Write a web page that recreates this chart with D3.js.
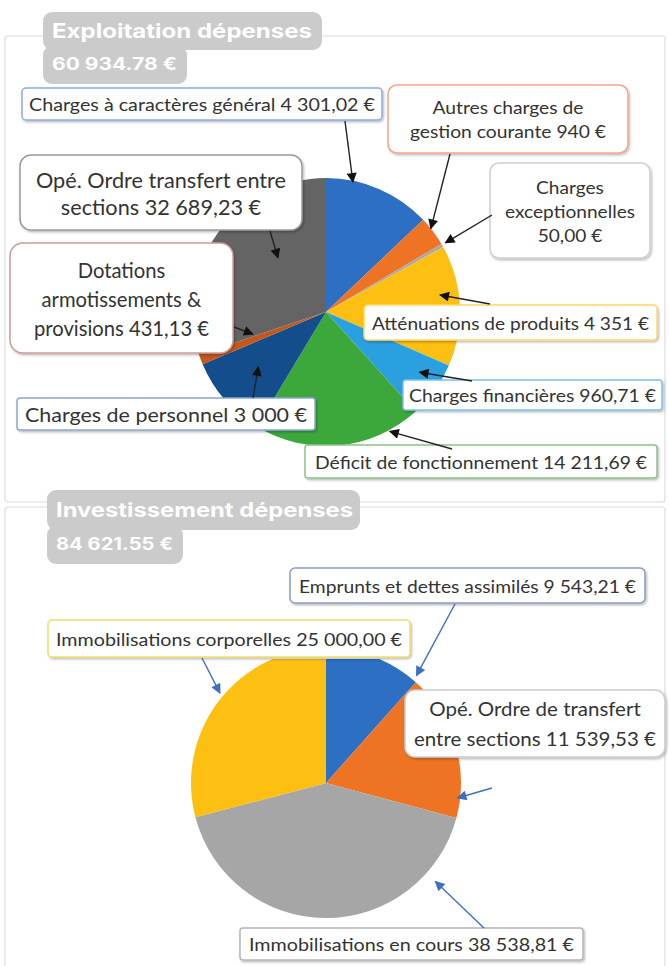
<!DOCTYPE html>
<html><head><meta charset="utf-8">
<script src="https://cdn.jsdelivr.net/npm/d3@7"></script>
<style>body{margin:0;background:#fff;} svg{display:block}</style>
</head><body><svg id="c" width="669" height="966"></svg>
<script>
// ---------------- DATA ----------------
const expTitle = "Exploitation dépenses";
const expTotal = "60 934.78 €";
const expCategories = ["Charges à caractères général", "Autres charges de gestion courante", "Charges exceptionnelles",
  "Atténuations de produits", "Charges financières", "Déficit de fonctionnement", "Charges de personnel",
  "Dotations armotissements & provisions", "Opé. Ordre transfert entre sections"];
const expAmounts = [4301.02, 940, 50, 4351, 960.71, 14211.69, 3000, 431.13, 32689.23];
// slice sizes as drawn in the picture (degrees)
const expSliceDegrees = [46.5, 13, 1.5, 52.5, 24.5, 73, 36, 4.5, 108.5];
const expLabels = [
  ["Charges à caractères général 4 301,02 €"],
  ["Autres charges de", "gestion courante 940 €"],
  ["Charges", "exceptionnelles", "50,00  €"],
  ["Atténuations de produits 4 351 €"],
  ["Charges financières 960,71 €"],
  ["Déficit de fonctionnement 14 211,69 €"],
  ["Charges de personnel 3 000 €"],
  ["Dotations", "armotissements &", "provisions 431,13 €"],
  ["Opé. Ordre transfert entre", "sections 32 689,23 €"]
];
const expColors = ["#2d6fc3", "#ee7424", "#a9a9a9", "#fdbf12", "#2ba0e0", "#3ca83c", "#134d8b", "#c4581b", "#646464"];

const invTitle = "Investissement dépenses";
const invTotal = "84 621.55 €";
const invCategories = ["Emprunts et dettes assimilés", "Opé. Ordre de transfert entre sections",
  "Immobilisations en cours", "Immobilisations corporelles"];
const invAmounts = [9543.21, 11539.53, 38538.81, 25000.00];
const invSliceDegrees = [41.7, 63.3, 150.3, 104.7];
const invLabels = [
  ["Emprunts et dettes assimilés 9 543,21 €"],
  ["Opé. Ordre de transfert", "entre sections 11 539,53 €"],
  ["Immobilisations en cours 38 538,81 €"],
  ["Immobilisations corporelles 25 000,00 €"]
];
const invColors = ["#2d6fc3", "#ee7424", "#a6a6a6", "#fdbf12"];

// ---------------- LAYOUT ----------------
const expPie = {cx: 326, cy: 312, r: 134, clipTop: null};
const invPie = {cx: 326, cy: 783, r: 135, clipTop: 659};
const expBoxes = [
  {x: 22, y: 88, w: 360, h: 32, rx: 4, fs: 18, pad: 7, lh: 0, stroke: "#8ea9e8", from: [345, 121], ta: 11.7, tr: 0.99},
  {x: 388, y: 85, w: 240, h: 68, rx: 9, fs: 18, pad: 22, lh: 24, stroke: "#f2a58a", from: [450, 154], ta: 51.5, tr: 1.0},
  {x: 490, y: 163, w: 160, h: 95, rx: 9, fs: 18, pad: 15, lh: 24, stroke: "#cfcfcf", from: [492, 215], ta: 59.9, tr: 1.03},
  {x: 364, y: 305, w: 293, h: 35, rx: 4, fs: 18, pad: 8, lh: 0, stroke: "#ffd766", from: [490, 304], ta: 81.5, tr: 0.86},
  {x: 403, y: 380, w: 259, h: 30, rx: 3, fs: 18, pad: 6, lh: 0, stroke: "#7fc1ec", from: [472, 381], ta: 122.8, tr: 0.83},
  {x: 305, y: 445, w: 352, h: 33, rx: 3, fs: 18, pad: 10, lh: 0, stroke: "#8cc487", from: [452, 449], ta: 151.9, tr: 1.01},
  {x: 17, y: 398, w: 298, h: 32, rx: 3, fs: 20, pad: 8, lh: 0, stroke: "#8fa6d4", from: [253, 398], ta: 231, tr: 0.65},
  {x: 10, y: 243, w: 223, h: 110, rx: 13, fs: 21, pad: 24, lh: 29, stroke: "#cf9a9a", from: [234, 327], ta: 253.2, tr: 0.57},
  {x: 20, y: 155, w: 282, h: 75, rx: 11, fs: 21, pad: 16, lh: 27, stroke: "#9a9a9a", from: [270, 231], ta: 318.4, tr: 0.54}
];
const invBoxes = [
  {x: 290, y: 568, w: 355, h: 35, rx: 5, fs: 18, pad: 9, lh: 0, stroke: "#8a9cc2", from: [455, 604], ta: 40.1, tr: 1.04},
  {x: 405, y: 690, w: 260, h: 67, rx: 10, fs: 19, pad: 9, lh: 30, stroke: "#cccccc", from: [492, 788], ta: 96.5, tr: 0.98},
  {x: 240, y: 928, w: 343, h: 32, rx: 3, fs: 18, pad: 9, lh: 0, stroke: "#b5b5b5", from: [484, 928], ta: 132, tr: 1.09},
  {x: 48, y: 620, w: 362, h: 37, rx: 4, fs: 18, pad: 8, lh: 0, stroke: "#f0dc6a", from: [202, 658], ta: 310.3, tr: 1.03}
];
const titles = [
  {t1: expTitle, t2: expTotal, x: 43, y: 12, w1: 279, h1: 38, w2: 144, h2: 34, tw1: 260, tw2: 125},
  {t1: invTitle, t2: invTotal, x: 47, y: 490, w1: 313, h1: 40, w2: 136, h2: 34, tw1: 297, tw2: 117}
];

const svg = d3.select("#c");
const defs = svg.append("defs");
const sh = defs.append("filter").attr("id", "sh").attr("x", "-10%").attr("y", "-20%").attr("width", "130%").attr("height", "160%");
sh.append("feDropShadow").attr("dx", 1.2).attr("dy", 1.5).attr("stdDeviation", 1.2)
  .attr("flood-color", "#000").attr("flood-opacity", 0.28);
function marker(id, color) {
  defs.append("marker").attr("id", id).attr("viewBox", "0 0 10 10").attr("refX", 9).attr("refY", 5)
    .attr("markerWidth", 12).attr("markerHeight", 10).attr("markerUnits", "userSpaceOnUse")
    .attr("orient", "auto").append("path").attr("d", "M0,0 L10,5 L0,10 z").attr("fill", color);
}
marker("ab", "#111");
marker("ai", "#3f6fc0");

// panels
svg.append("rect").attr("x", 5).attr("y", 36).attr("width", 660).attr("height", 466)
  .attr("fill", "none").attr("stroke", "#dcdcdc").attr("stroke-width", 1.2).attr("rx", 3);
svg.append("rect").attr("x", 5).attr("y", 507).attr("width", 660).attr("height", 480)
  .attr("fill", "none").attr("stroke", "#dcdcdc").attr("stroke-width", 1.2).attr("rx", 3);

// titles
titles.forEach(t => {
  const g = svg.append("g");
  g.append("rect").attr("x", t.x).attr("y", t.y).attr("width", t.w1).attr("height", t.h1).attr("rx", 9).attr("fill", "#cbcbcb");
  g.append("rect").attr("x", t.x).attr("y", t.y + t.h1 - 4).attr("width", t.w2).attr("height", t.h2 + 4).attr("rx", 9).attr("fill", "#cbcbcb");
  g.append("text").attr("x", t.x + 9).attr("y", t.y + t.h1 * 0.68).text(t.t1)
    .attr("font-family", "Inter, 'Open Sans', sans-serif").attr("font-weight", 700).attr("font-size", 20)
    .attr("fill", "#fff").attr("textLength", t.tw1).attr("lengthAdjust", "spacingAndGlyphs");
  g.append("text").attr("x", t.x + 9).attr("y", t.y + t.h1 + t.h2 * 0.6).text(t.t2)
    .attr("font-family", "Inter, 'Open Sans', sans-serif").attr("font-weight", 700).attr("font-size", 17)
    .attr("fill", "#fff").attr("textLength", t.tw2).attr("lengthAdjust", "spacingAndGlyphs");
});

function drawPie(cfg, degrees, colors, labels, boxes, markerId, arrowColor, idx) {
  const pie = d3.pie().value(d => d).sort(null);
  const arcs = pie(degrees);
  const arc = d3.arc().innerRadius(0).outerRadius(cfg.r);
  let g = svg.append("g");
  if (cfg.clipTop !== null) {
    defs.append("clipPath").attr("id", "clip" + idx).append("rect")
      .attr("x", 0).attr("y", cfg.clipTop).attr("width", 669).attr("height", 966);
    g = g.attr("clip-path", "url(#clip" + idx + ")");
  }
  const pg = g.append("g").attr("transform", `translate(${cfg.cx},${cfg.cy})`);
  pg.selectAll("path").data(arcs).join("path").attr("d", arc).attr("fill", (d, i) => colors[i]);

  // label boxes
  boxes.forEach((b, i) => {
    const bg = svg.append("g");
    bg.append("rect").attr("x", b.x).attr("y", b.y).attr("width", b.w).attr("height", b.h).attr("rx", b.rx)
      .attr("fill", "#fff").attr("stroke", b.stroke).attr("stroke-width", 1.5).attr("filter", "url(#sh)");
    const lines = labels[i];
    const n = lines.length;
    const cy = b.y + b.h / 2;
    const texts = lines.map((ln, k) => bg.append("text")
      .attr("x", b.x + b.w / 2).attr("y", cy + (k - (n - 1) / 2) * b.lh)
      .attr("text-anchor", "middle").attr("dominant-baseline", "central")
      .attr("font-family", "Lato, 'Open Sans', sans-serif").attr("font-size", b.fs).attr("fill", "#333")
      .text(ln));
    const widths = texts.map(t => t.node().getComputedTextLength());
    const maxW = d3.max(widths);
    const s = (b.w - 2 * b.pad) / maxW;
    texts.forEach((t, k) => t.attr("textLength", widths[k] * s).attr("lengthAdjust", "spacingAndGlyphs"));
  });
  // arrows
  boxes.forEach((b, i) => {
    const a = b.ta * Math.PI / 180, rr = b.tr * cfg.r;
    const tx = cfg.cx + Math.sin(a) * rr, ty = cfg.cy - Math.cos(a) * rr;
    svg.append("line").attr("x1", b.from[0]).attr("y1", b.from[1]).attr("x2", tx).attr("y2", ty)
      .attr("stroke", arrowColor).attr("stroke-width", 1.4).attr("marker-end", `url(#${markerId})`);
  });
}

drawPie(expPie, expSliceDegrees, expColors, expLabels, expBoxes, "ab", "#222", 1);
drawPie(invPie, invSliceDegrees, invColors, invLabels, invBoxes, "ai", "#3f6fc0", 2);
</script>
</body></html>
